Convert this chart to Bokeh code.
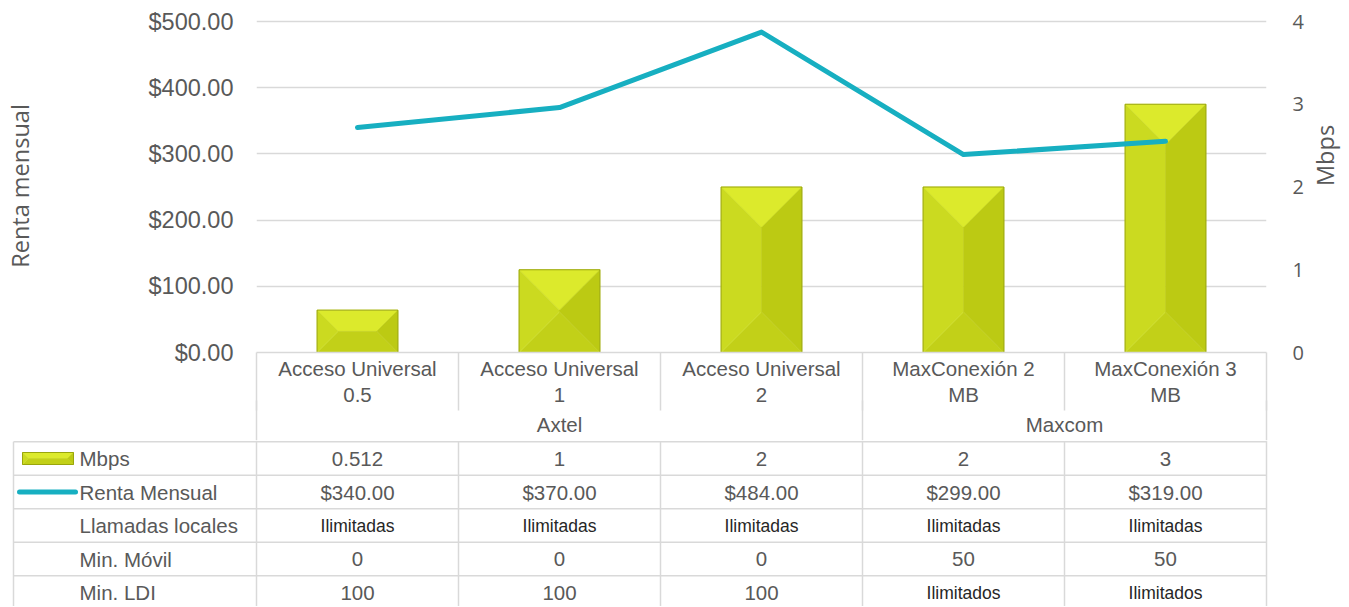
import math
from bokeh.plotting import figure
from bokeh.models import (Range1d, LinearAxis, FixedTicker, NumeralTickFormatter, ColumnDataSource)
from bokeh.core.properties import value
from bokeh.embed import file_html
from bokeh.resources import INLINE

# ---------------- data ----------------
plans = ["Acceso Universal 0.5", "Acceso Universal 1", "Acceso Universal 2",
         "MaxConexión 2 MB", "MaxConexión 3 MB"]
company = ["Axtel", "Axtel", "Axtel", "Maxcom", "Maxcom"]
mbps = [0.512, 1, 2, 2, 3]
mbps_labels = ["0.512", "1", "2", "2", "3"]
renta = [340.00, 370.00, 484.00, 299.00, 319.00]
llamadas = ["Ilimitadas", "Ilimitadas", "Ilimitadas", "Ilimitadas", "Ilimitadas"]
min_movil = ["0", "0", "0", "50", "50"]
min_ldi = ["100", "100", "100", "Ilimitados", "Ilimitados"]
row_names = ["Mbps", "Renta Mensual", "Llamadas locales", "Min. Móvil", "Min. LDI"]
rent_ticks = [0, 100, 200, 300, 400, 500]
mbps_ticks = [0, 1, 2, 3, 4]
rent_title = "Renta mensual"
mbps_title = "Mbps"

# ---------------- layout constants (page pixels) ----------------
CANVAS_W = 1349
FRAME_L, FRAME_R = 256, 1266
Y_TOP_TICK, Y_ZERO = 21, 352
CHART_TOP, CHART_BOTTOM = 19, 440
TABLE_BOTTOM = 606
ROW0_Y, ROW_H = 458, 33.5
TABLE_LEFT = 13
KEY_L, KEY_R, KEY_H = 22, 73, 12
LKEY_L, LKEY_R = 19, 75
ROWLABEL_X = 79
CAT_SEP = 58      # length of category separators below the axis
GRP_SEP = 40      # length of group separators

GRID = "#d9d9d9"
TXT = "#595959"
TEAL = "#17afc1"
FACE = {"top": "#dcea2c", "left": "#cbda20", "right": "#bcca13", "bottom": "#c2d018"}
EDGE = "#9aa60c"
FONT = "Liberation Sans"
TITLE_FONT = "Open Sans"

n = len(plans)
unit_x = (FRAME_R - FRAME_L) / n
rent_max = rent_ticks[-1]
mbps_max = mbps_ticks[-1]
px_rent = (Y_ZERO - Y_TOP_TICK) / rent_max
px_mbps = (Y_ZERO - Y_TOP_TICK) / mbps_max


def ty(page_y):
    return (page_y - ROW0_Y) / ROW_H


def tx(page_x):
    return (page_x - FRAME_L) / unit_x


rent_range = Range1d(0, rent_max + (Y_TOP_TICK - CHART_TOP) / px_rent)
mbps_range = Range1d(0, mbps_max + (Y_TOP_TICK - CHART_TOP) / px_mbps)


def bevel_faces(L, R, B, T, px_x, px_y):
    w = abs(R - L) * px_x
    h = abs(T - B) * px_y
    d = min(w, h) / 2
    dx = d / px_x
    dy = d / px_y * (1 if T > B else -1)
    return {
        "top": ([L, R, R - dx, L + dx], [T, T, T - dy, T - dy]),
        "bottom": ([L, R, R - dx, L + dx], [B, B, B + dy, B + dy]),
        "left": ([L, L + dx, L + dx, L], [T, T - dy, B + dy, B]),
        "right": ([R, R - dx, R - dx, R], [T, T - dy, B + dy, B]),
    }


# ---------------- chart ----------------
p = figure(frame_width=FRAME_R - FRAME_L, frame_height=Y_ZERO - CHART_TOP,
           x_range=Range1d(0, n), y_range=rent_range,
           output_backend="svg", toolbar_location=None,
           min_border_left=FRAME_L, min_border_right=CANVAS_W - FRAME_R,
           min_border_top=CHART_TOP, min_border_bottom=CHART_BOTTOM - Y_ZERO,
           x_axis_location=None, y_axis_location="left")
p.outline_line_color = None
p.background_fill_color = "white"
p.border_fill_color = "white"
p.xgrid.visible = False

ax_l = p.yaxis[0]
ax_l.ticker = FixedTicker(ticks=rent_ticks)
ax_l.formatter = NumeralTickFormatter(format="$0.00")
ax_l.axis_label = rent_title
ax_l.axis_line_color = None
ax_l.major_tick_line_color = None
ax_l.minor_tick_line_color = None
ax_l.major_tick_out = 0
ax_l.major_tick_in = 0
ax_l.major_label_standoff = 23
ax_l.major_label_text_font = FONT
ax_l.major_label_text_font_size = "23.5px"
ax_l.major_label_text_color = TXT
ax_l.axis_label_text_font = TITLE_FONT
ax_l.axis_label_text_font_size = "23.5px"
ax_l.axis_label_text_font_style = "normal"
ax_l.axis_label_text_color = TXT
ax_l.axis_label_standoff = 110

p.ygrid[0].ticker = FixedTicker(ticks=rent_ticks)
p.ygrid[0].grid_line_color = GRID
p.ygrid[0].grid_line_width = 1.5

p.extra_y_ranges = {"mbps": mbps_range}
ax_r = LinearAxis(y_range_name="mbps", ticker=FixedTicker(ticks=mbps_ticks), axis_label=mbps_title)
ax_r.axis_line_color = None
ax_r.major_tick_line_color = None
ax_r.minor_tick_line_color = None
ax_r.major_tick_out = 0
ax_r.major_tick_in = 0
ax_r.major_label_standoff = 26
ax_r.major_label_text_font = TITLE_FONT
ax_r.major_label_text_font_size = "20px"
ax_r.major_label_text_color = TXT
ax_r.axis_label_text_font = TITLE_FONT
ax_r.axis_label_text_font_size = "23.5px"
ax_r.axis_label_text_font_style = "normal"
ax_r.axis_label_text_color = TXT
ax_r.axis_label_standoff = 18
ax_r.axis_label_orientation = math.pi / 2
p.add_layout(ax_r, "right")

# category axis (plans) with separators as minor ticks
centers = [i + 0.5 for i in range(n)]
bounds = list(range(n + 1))
cat_labels = {c: s.rsplit(" ", 1)[0] + "\n" + s.rsplit(" ", 1)[1] for c, s in zip(centers, plans)}
ax_c = LinearAxis(ticker=FixedTicker(ticks=centers, minor_ticks=bounds), major_label_overrides=cat_labels)
ax_c.axis_line_color = GRID
ax_c.axis_line_width = 1.5
ax_c.major_tick_line_color = None
ax_c.major_tick_out = 0
ax_c.major_tick_in = 0
ax_c.minor_tick_line_color = GRID
ax_c.minor_tick_line_width = 1.5
ax_c.minor_tick_out = CAT_SEP
ax_c.minor_tick_in = 0
ax_c.major_label_standoff = 4 - CAT_SEP
ax_c.major_label_text_font = FONT
ax_c.major_label_text_font_size = "20.5px"
ax_c.major_label_text_line_height = 1.15
ax_c.major_label_text_color = TXT
ax_c.major_label_orientation = "horizontal"
p.add_layout(ax_c, "below")

# group axis (companies) with group separators as minor ticks
groups = []
for i, c in enumerate(company):
    if not groups or groups[-1][0] != c:
        groups.append([c, i, i])
    else:
        groups[-1][2] = i
g_centers = [(g[1] + g[2] + 1) / 2 for g in groups]
g_bounds = [groups[0][1]] + [g[2] + 1 for g in groups]
ax_g = LinearAxis(ticker=FixedTicker(ticks=g_centers, minor_ticks=g_bounds),
                  major_label_overrides={c: g[0] for c, g in zip(g_centers, groups)})
ax_g.axis_line_color = None
ax_g.major_tick_line_color = None
ax_g.major_tick_out = 0
ax_g.major_tick_in = 0
ax_g.minor_tick_line_color = GRID
ax_g.minor_tick_line_width = 1.5
ax_g.minor_tick_out = GRP_SEP
ax_g.minor_tick_in = 8
ax_g.major_label_standoff = 4 - GRP_SEP
ax_g.major_label_text_font = FONT
ax_g.major_label_text_font_size = "20.5px"
ax_g.major_label_text_color = TXT
p.add_layout(ax_g, "below")

# bars with bevel
bar_w = 0.4
for face in ["top", "bottom", "left", "right"]:
    xs, ys = [], []
    for i, v in enumerate(mbps):
        f = bevel_faces(i + 0.5 - bar_w / 2, i + 0.5 + bar_w / 2, 0, v, unit_x, px_mbps)
        xs.append(f[face][0])
        ys.append(f[face][1])
    p.patches(xs=xs, ys=ys, fill_color=FACE[face], line_color=FACE[face], line_width=0.5,
              y_range_name="mbps")
p.quad(left=[i + 0.5 - bar_w / 2 for i in range(n)], right=[i + 0.5 + bar_w / 2 for i in range(n)],
       bottom=[0] * n, top=mbps, fill_color=None, line_color=EDGE, line_width=1,
       y_range_name="mbps")

# line
p.line(x=centers, y=renta, line_color=TEAL, line_width=5, line_cap="round", line_join="round")

# ---------------- data table ----------------
t = figure(frame_width=CANVAS_W, frame_height=TABLE_BOTTOM - CHART_BOTTOM,
           x_range=Range1d(tx(0), tx(CANVAS_W)),
           y_range=Range1d(ty(TABLE_BOTTOM), ty(CHART_BOTTOM)),
           min_border=0, x_axis_location=None, y_axis_location=None,
           output_backend="svg", toolbar_location=None)
t.outline_line_color = None
t.background_fill_color = "white"
t.border_fill_color = "white"
t.xgrid.visible = False
t.ygrid.visible = False

nrows = len(row_names)
left_col = tx(TABLE_LEFT)
hy = [r - 0.5 for r in range(nrows + 1)]
t.segment(x0=[left_col] * len(hy), y0=hy, x1=[n] * len(hy), y1=hy, line_color=GRID, line_width=1.5)
vx = [left_col] + bounds
t.segment(x0=vx, y0=[-0.5] * len(vx), x1=vx, y1=[nrows - 0.5] * len(vx), line_color=GRID, line_width=1.5)
t.segment(x0=g_bounds, y0=[ty(CHART_BOTTOM)] * len(g_bounds), x1=g_bounds, y1=[-0.5] * len(g_bounds),
          line_color=GRID, line_width=1.5)

# row labels
t.text(x=[tx(ROWLABEL_X)] * nrows, y=list(range(nrows)), text=row_names,
       text_font=value(FONT), text_font_size="20.5px", text_color=TXT,
       text_align="left", text_baseline="middle")

# cell values
renta_labels = ["${:,.2f}".format(v) for v in renta]
rows = [mbps_labels, renta_labels, llamadas, min_movil, min_ldi]
cxs, cys, ctext, csize, ccolor = [], [], [], [], []
for r, vals in enumerate(rows):
    for i, v in enumerate(vals):
        numeric = any(ch.isdigit() for ch in v)
        cxs.append(i + 0.5)
        cys.append(r)
        ctext.append(v)
        csize.append("20.5px" if numeric else "17.5px")
        ccolor.append(TXT if numeric else "#262626")
src = ColumnDataSource(dict(x=cxs, y=cys, text=ctext, size=csize, color=ccolor))
t.text(x="x", y="y", text="text", text_font_size="size", text_color="color", source=src,
       text_font=value(FONT), text_align="center", text_baseline="middle")

# legend keys
kf = bevel_faces(tx(KEY_L), tx(KEY_R), KEY_H / 2 / ROW_H, -KEY_H / 2 / ROW_H, unit_x, ROW_H)
for face in ["top", "bottom", "left", "right"]:
    t.patch(x=kf[face][0], y=kf[face][1], fill_color=FACE[face], line_color=FACE[face], line_width=0.5)
t.quad(left=[tx(KEY_L)], right=[tx(KEY_R)], top=[-KEY_H / 2 / ROW_H], bottom=[KEY_H / 2 / ROW_H],
       fill_color=None, line_color=EDGE, line_width=1)
t.segment(x0=[tx(LKEY_L)], y0=[1], x1=[tx(LKEY_R)], y1=[1], line_color=TEAL, line_width=5, line_cap="round")

open("out.html", "w").write(file_html([p, t], INLINE))
